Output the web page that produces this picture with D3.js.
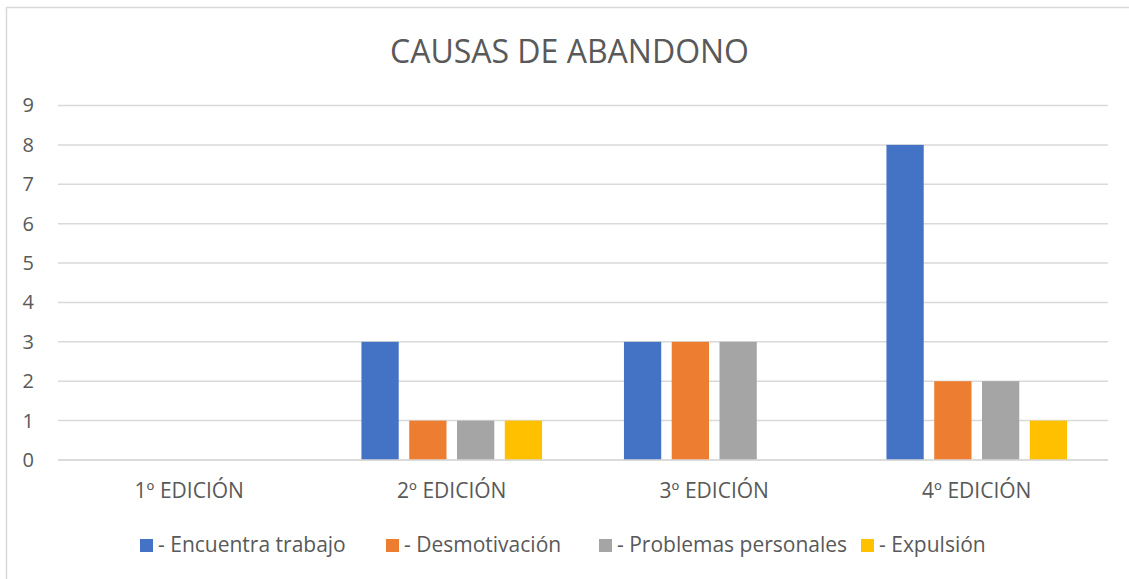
<!DOCTYPE html>
<html>
<head>
<meta charset="utf-8">
<script src="https://cdn.jsdelivr.net/npm/d3@7"></script>
<style>
  html, body { margin: 0; padding: 0; background: #fff; }
  svg { display: block; }
  text { font-family: "Open Sans", sans-serif; fill: #595959; }
</style>
</head>
<body>
<svg id="chart" width="1129" height="579"></svg>
<script>
// Editions and causes of dropout
const categories = ["1º EDICIÓN", "2º EDICIÓN", "3º EDICIÓN", "4º EDICIÓN"];
const seriesNames = ["- Encuentra trabajo", "- Desmotivación", "- Problemas personales", "- Expulsión"];
const encuentraTrabajo = [0, 3, 3, 8];
const desmotivacion = [0, 1, 3, 2];
const problemasPersonales = [0, 1, 3, 2];
const expulsion = [0, 1, 0, 1];
const yTicks = [0, 1, 2, 3, 4, 5, 6, 7, 8, 9];
const colors = ["#4472C4", "#ED7D31", "#A5A5A5", "#FFC000"];

const seriesValues = [encuentraTrabajo, desmotivacion, problemasPersonales, expulsion];

const svg = d3.select("#chart");
const plot = { left: 58, right: 1108, top: 105.5, bottom: 460 };

// Outer chart frame
svg.append("rect")
  .attr("x", 6.5).attr("y", 7.5)
  .attr("width", 1140).attr("height", 600)
  .attr("fill", "none").attr("stroke", "#d9d9d9").attr("stroke-width", 1.5);

// Title
svg.append("text")
  .attr("x", 569.5).attr("y", 63)
  .attr("text-anchor", "middle")
  .style("font-size", "32px")
  .text("CAUSAS DE ABANDONO");

const x0 = d3.scaleBand()
  .domain(categories)
  .range([plot.left, plot.right])
  .paddingInner(0.312)
  .paddingOuter(0.156);

const x1 = d3.scaleBand()
  .domain(d3.range(seriesNames.length))
  .range([0, x0.bandwidth()])
  .paddingInner(0.22)
  .paddingOuter(0);

const y = d3.scaleLinear()
  .domain([0, 9])
  .range([plot.bottom, plot.top]);

// Horizontal gridlines
svg.append("g")
  .selectAll("line")
  .data(yTicks)
  .join("line")
  .attr("x1", plot.left).attr("x2", plot.right)
  .attr("y1", d => y(d)).attr("y2", d => y(d))
  .attr("stroke", "#d9d9d9").attr("stroke-width", 1.5);

// Y axis labels
const yAxis = d3.axisLeft(y).tickValues(yTicks).tickSize(0).tickPadding(0);
const gy = svg.append("g")
  .attr("transform", `translate(34,0)`)
  .call(yAxis);
gy.select(".domain").remove();
gy.selectAll("text")
  .style("font-size", "20px")
  .style("fill", "#595959")
  .style("font-family", "'Open Sans', sans-serif");

// Bars
const groups = svg.append("g")
  .selectAll("g")
  .data(categories)
  .join("g")
  .attr("transform", d => `translate(${x0(d)},0)`);

groups.selectAll("rect")
  .data((c, ci) => seriesValues.map((vals, si) => ({ si, v: vals[ci] })))
  .join("rect")
  .attr("x", d => x1(d.si))
  .attr("width", x1.bandwidth())
  .attr("y", d => y(d.v))
  .attr("height", d => y(0) - y(d.v))
  .attr("fill", d => colors[d.si]);

// Baseline drawn over the bars
svg.append("line")
  .attr("x1", plot.left).attr("x2", plot.right)
  .attr("y1", y(0)).attr("y2", y(0))
  .attr("stroke", "#d9d9d9").attr("stroke-width", 1.5);

// Category axis labels
const xAxis = d3.axisBottom(x0).tickSize(0).tickPadding(0);
const gx = svg.append("g")
  .attr("transform", `translate(0,${plot.bottom + 23})`)
  .call(xAxis);
gx.select(".domain").remove();
gx.selectAll("text")
  .style("font-size", "21px")
  .style("fill", "#595959")
  .style("font-family", "'Open Sans', sans-serif");

// Legend
const legendX = [140, 386, 599, 861];
const legend = svg.append("g")
  .selectAll("g")
  .data(seriesNames)
  .join("g")
  .attr("transform", (d, i) => `translate(${legendX[i]},539)`);
legend.append("rect")
  .attr("width", 13).attr("height", 13)
  .attr("fill", (d, i) => colors[i]);
legend.append("text")
  .attr("x", 18).attr("y", 13)
  .style("font-size", "21px")
  .text(d => d);
</script>
</body>
</html>
